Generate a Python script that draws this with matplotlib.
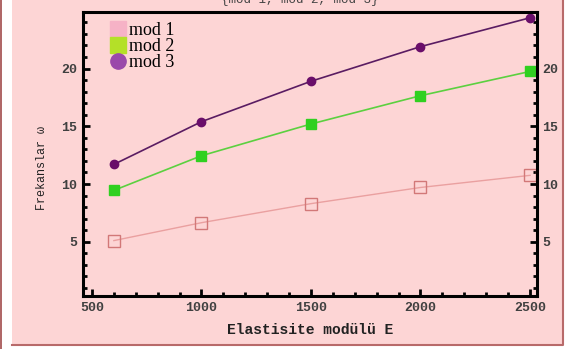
import matplotlib
matplotlib.use("Agg")
import matplotlib.pyplot as plt
from matplotlib.lines import Line2D
from matplotlib.patches import Rectangle
from matplotlib.ticker import MultipleLocator

# data
elastisite = [600, 1000, 1500, 2000, 2500]
mod1 = [5.1, 6.65, 8.3, 9.7, 10.75]
mod2 = [9.45, 12.45, 15.2, 17.65, 19.75]
mod3 = [11.7, 15.4, 18.9, 21.9, 24.4]
series_names = ["mod 1", "mod 2", "mod 3"]

bg = "#fdd5d5"
edge = "#b86a6a"
mono = "Liberation Mono"

fig = plt.figure(figsize=(5.71, 3.49), dpi=100, facecolor="white")

# pink panel with brown right/bottom edge, like the screenshot frame
fig.patches.append(Rectangle((12 / 571, 4 / 349), 551 / 571, 345 / 349,
                             transform=fig.transFigure, facecolor=bg,
                             edgecolor="none", zorder=-5))
fig.lines.append(Line2D([12 / 571, 563 / 571, 563 / 571], [4 / 349, 4 / 349, 1],
                        transform=fig.transFigure, color=edge, lw=1.5, zorder=-4))
fig.patches.append(Rectangle((0, 0), 2 / 571, 1, transform=fig.transFigure,
                             facecolor="#b06868", edgecolor="none", zorder=-5))

ax = fig.add_axes([83 / 571, 1 - 296 / 349, 454 / 571, 284 / 349])
ax.set_facecolor(bg)

ax.plot(elastisite, mod1, color="#eaa0a0", lw=1.0, marker="s", ms=8,
        mfc="none", mec="#d27878", mew=1.0)
ax.plot(elastisite, mod2, color="#5cd040", lw=1.2, marker="s", ms=7,
        mfc="#30d020", mec="#30d020")
ax.plot(elastisite, mod3, color="#5a1c62", lw=1.2, marker="o", ms=6,
        mfc="#6a0e6a", mec="#6a0e6a")

ax.set_xlim(459, 2532)
ax.set_ylim(0.3, 24.9)
ax.xaxis.set_major_locator(MultipleLocator(500))
ax.xaxis.set_minor_locator(MultipleLocator(100))
ax.yaxis.set_minor_locator(MultipleLocator(1))
ax.set_yticks([5, 10, 15, 20])

for s in ax.spines.values():
    s.set_linewidth(2.2)
ax.tick_params(which="both", direction="in", top=False, right=True,
               labelright=True, width=2, colors="black", labelcolor="#404040")
ax.tick_params(which="major", length=5, labelsize=9.5, pad=4)
ax.tick_params(which="minor", length=3)
for t in ax.xaxis.get_major_ticks() + ax.yaxis.get_major_ticks():
    t.label1.set_family(mono)
    t.label2.set_family(mono)
    t.label1.set_fontweight("bold")
    t.label2.set_fontweight("bold")

ax.set_xlabel("Elastisite modülü E", family=mono, fontsize=10.5,
              fontweight="bold", labelpad=7, color="#222222")
ax.set_ylabel("Frekanslar ω", family=mono, fontsize=8.5, color="#222222")
ax.yaxis.set_label_coords(-0.078, 0.45)

handles = [
    Line2D([], [], ls="none", marker="s", ms=11, color="#f6b2c6"),
    Line2D([], [], ls="none", marker="s", ms=11, color="#b4e028"),
    Line2D([], [], ls="none", marker="o", ms=11, color="#9a48aa"),
]
leg = ax.legend(handles, series_names, loc="upper left", frameon=False,
                prop={"family": "Liberation Serif", "size": 13},
                labelspacing=-0.05, handletextpad=0.0, handlelength=1.2,
                borderaxespad=0.0, bbox_to_anchor=(0.037, 0.99))

fig.text(300 / 571, 1.0, "{mod 1, mod 2, mod 3}", family=mono,
         fontsize=9, color="#444444", ha="center", va="center")

fig.savefig("out.png", dpi=100, facecolor="white")
